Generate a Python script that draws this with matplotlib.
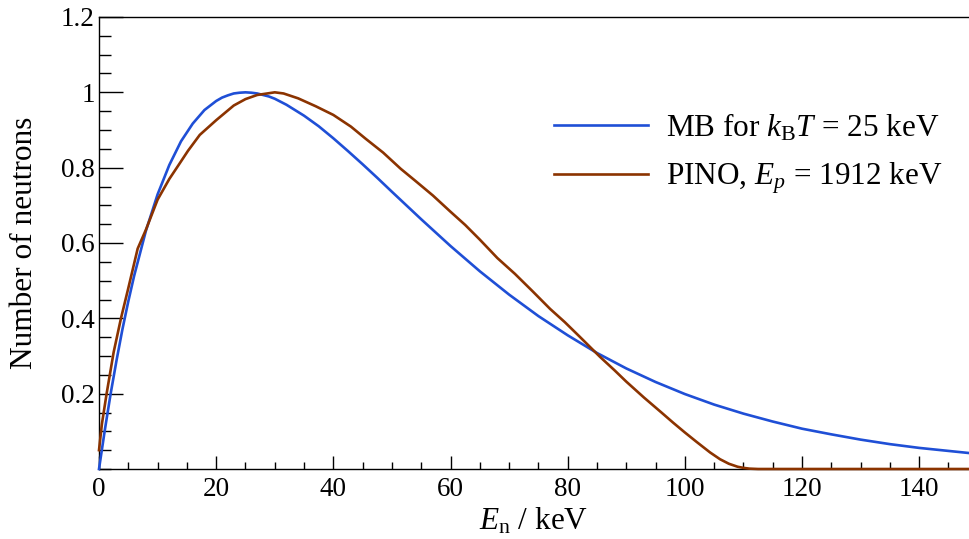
import matplotlib as mpl
mpl.use("Agg")
import matplotlib.pyplot as plt
from matplotlib.ticker import MultipleLocator, FixedLocator

# Maxwell-Boltzmann spectrum for kT = 25 keV
mb_energy = [0, 1, 2, 3, 4, 5, 6, 8, 10, 12, 14, 16, 18, 20, 21, 22, 23, 24, 25,
             26, 27, 28, 29, 30, 32, 35, 37.5, 40, 42.5, 45, 47.5, 50, 55, 60,
             65, 70, 75, 80, 85, 90, 95, 100, 105, 110, 115, 120, 125, 130,
             135, 140, 145, 150]
mb_counts = [0.0, 0.104, 0.201, 0.289, 0.371, 0.445, 0.513, 0.632, 0.729, 0.807,
             0.870, 0.917, 0.953, 0.977, 0.986, 0.992, 0.997, 0.999, 1.0,
             0.999, 0.997, 0.993, 0.989, 0.983, 0.967, 0.938, 0.910, 0.878,
             0.844, 0.809, 0.773, 0.736, 0.663, 0.592,
             0.525, 0.463, 0.406, 0.355, 0.308, 0.267, 0.231, 0.199,
             0.171, 0.147, 0.126, 0.107, 0.092, 0.078, 0.066, 0.056, 0.048, 0.040]

# PINO simulation, Ep = 1912 keV
pino_energy = [0, 0.5, 1.3, 2.5, 3.75, 5, 6.6, 8, 10, 12, 13.5, 15.2, 17.2, 20,
               23, 25, 27, 30, 31.5, 34, 37, 40, 43, 45.5, 48.5, 51.5, 54, 57,
               60, 62.5, 65, 68, 71, 74, 77, 79.5, 82, 85.5, 88, 90, 93, 96, 98,
               100, 102, 104.3, 106, 107.5, 109, 110, 111, 112.5, 115, 120, 130,
               140, 150]
pino_counts = [0.05, 0.12, 0.20, 0.31, 0.40, 0.48, 0.585, 0.635, 0.715, 0.77,
               0.805, 0.845, 0.887, 0.926, 0.965, 0.982, 0.993, 1.0, 0.997,
               0.984, 0.963, 0.94, 0.909, 0.877, 0.84, 0.797, 0.765, 0.726,
               0.683, 0.648, 0.609, 0.56, 0.518, 0.472, 0.425, 0.39, 0.352,
               0.298, 0.262, 0.232, 0.19, 0.15, 0.123, 0.097, 0.072, 0.044,
               0.026, 0.014, 0.006, 0.003, 0.001, 0.0, 0.0, 0.0, 0.0, 0.0, 0.0]

BLUE = "#1f4fd6"
BROWN = "#8b3300"

mpl.rcParams.update({
    "font.family": ["Liberation Serif", "DejaVu Serif"],
    "mathtext.fontset": "custom",
    "mathtext.rm": "Liberation Serif",
    "mathtext.it": "Liberation Serif:italic",
    "mathtext.bf": "Liberation Serif:bold",
    "axes.linewidth": 1.0,
})

fig = plt.figure(figsize=(9.69, 5.39), dpi=100)
ax = fig.add_axes([99 / 969, 70 / 539, 870 / 969, 452 / 539])

ax.plot(mb_energy, mb_counts, color=BLUE, lw=1.9, clip_on=False,
        label=r"MB for $k_\mathrm{B}T$ = 25 keV", zorder=3)
ax.plot(pino_energy, pino_counts, color=BROWN, lw=1.9, clip_on=False,
        label=r"PINO, $E_p$ = 1912 keV", zorder=3)

ax.set_xlim(0, 148.5)
ax.set_ylim(0, 1.2)
ax.spines["right"].set_visible(False)

ax.xaxis.set_major_locator(MultipleLocator(20))
ax.xaxis.set_minor_locator(MultipleLocator(5))
ax.yaxis.set_major_locator(FixedLocator([0.2, 0.4, 0.6, 0.8, 1.0, 1.2]))
ax.yaxis.set_minor_locator(MultipleLocator(0.05))
ax.set_yticklabels(["0.2", "0.4", "0.6", "0.8", "1", "1.2"])

ax.tick_params(axis="both", which="both", direction="in", top=False, right=False,
               width=1.0, labelsize=19.5)
ax.tick_params(axis="y", which="major", length=17, pad=3)
ax.tick_params(axis="y", which="minor", length=8.5)
ax.tick_params(axis="x", which="major", length=9.5, pad=6)
ax.tick_params(axis="x", which="minor", length=5)

ax.set_xlabel(r"$E_\mathrm{n}$ / keV", fontsize=22.5, labelpad=3)
ax.set_ylabel("Number of neutrons", fontsize=22.5, labelpad=16)

ax.legend(loc="center right", bbox_to_anchor=(943 / 969, 1 - 154 / 539),
          bbox_transform=fig.transFigure, frameon=False, borderpad=0,
          borderaxespad=0, fontsize=22.5, handlelength=2.98, handletextpad=0.6,
          labelspacing=0.55)

fig.savefig("out.png", dpi=100)
